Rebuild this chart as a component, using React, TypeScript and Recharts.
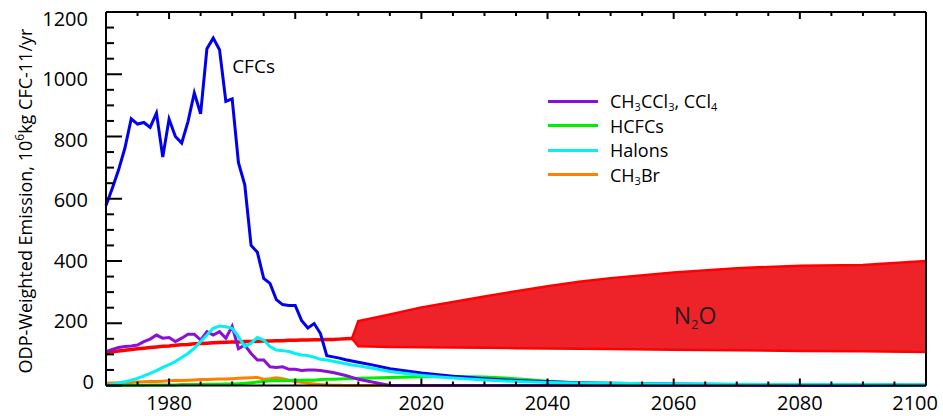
import React from 'react'
import { ComposedChart, Line, Area, XAxis, YAxis, ReferenceDot, Legend, Customized } from 'recharts'

const years = [
  1970, 1971, 1972, 1973, 1974, 1975, 1976, 1977, 1978, 1979,
  1980, 1981, 1982, 1983, 1984, 1985, 1986, 1987, 1988, 1989,
  1990, 1991, 1992, 1993, 1994, 1995, 1996, 1997, 1998, 1999,
  2000, 2001, 2002, 2003, 2004, 2005, 2006, 2007, 2008, 2009, 2010,
  2012, 2015, 2020, 2025, 2030, 2035, 2040, 2045, 2050, 2060, 2070, 2080, 2090, 2100,
]

const cfcs = [
  578, 634, 693, 763, 857, 840, 845, 829, 875, 734,
  856, 800, 779, 848, 940, 873, 1082, 1116, 1079, 913,
  921, 716, 645, 450, 428, 344, 328, 276, 260, 257,
  257, 209, 185, 199, 167, 96, 92, 88, 83, 79, 75,
  67, 54, 40, 30, 22, 16, 12, 9, 7, 5, 3, 2, 2, 1,
]

const ch3ccl3 = [
  109, 116, 122, 125, 127, 130, 141, 149, 162, 152,
  154, 141, 152, 165, 165, 146, 173, 162, 173, 152,
  190, 118, 130, 103, 82, 82, 60, 58, 60, 52,
  52, 48, 50, 50, 48, 45, 42, 37, 32, 26, 20,
  12, 0, 0, 0, 0, 0, 0, 0, 0, 0, 0, 0, 0, 0,
]

const hcfcs = [
  0, 0, 1, 1, 1, 1, 1, 2, 2, 2,
  2, 2, 3, 3, 3, 3, 4, 4, 4, 5,
  5, 6, 7, 9, 11, 13, 15, 16, 15, 16,
  17, 17, 18, 17, 19, 20, 20, 21, 22, 22, 23,
  24, 26, 28, 29, 27, 22, 14, 8, 5, 3, 2, 2, 1, 1,
]

const halons = [
  0, 4, 8, 12, 17, 23, 31, 39, 48, 58,
  67, 77, 90, 103, 120, 141, 162, 184, 191, 189,
  184, 157, 125, 136, 154, 146, 125, 114, 112, 109,
  103, 98, 96, 91, 84, 82, 78, 74, 70, 66, 63,
  56, 45, 32, 24, 18, 13, 10, 8, 7, 5, 4, 3, 3, 2,
]

const ch3br = [
  7, 8, 9, 10, 10, 11, 12, 13, 13, 14,
  15, 16, 16, 17, 18, 19, 19, 20, 21, 21,
  22, 23, 24, 25, 26, 20, 22, 25, 22, 17,
  13, 10, 7, 5, 3, 2, 1, 1, 0, 0, 0,
  0, 0, 0, 0, 0, 0, 0, 0, 0, 0, 0, 0, 0, 0,
]

// N2O observed trend, 1970-2009
const n2oTrend = [
  106, 108, 111, 113, 116, 118, 120, 122, 124, 126,
  127, 129, 131, 132, 134, 135, 136, 137, 138, 139,
  140, 140, 141, 141, 142, 143, 143, 144, 144, 145,
  145, 146, 146, 147, 147, 148, 148, 149, 150, 151,
]

// N2O scenario range
const n2oYears = [2009, 2010, 2012, 2015, 2020, 2025, 2030, 2035, 2040, 2045, 2050, 2060, 2070, 2080, 2090, 2100]
const n2oLow = [151, 126, 125, 124, 123, 122, 121, 120, 119, 118, 117, 115, 113, 111, 110, 108]
const n2oHigh = [151, 207, 215, 228, 251, 268, 286, 303, 319, 333, 345, 363, 377, 385, 387, 400]

const xTicks = [
  1970, 1975, 1980, 1985, 1990, 1995, 2000, 2005, 2010, 2015, 2020, 2025, 2030, 2035,
  2040, 2045, 2050, 2055, 2060, 2065, 2070, 2075, 2080, 2085, 2090, 2095, 2100,
]
const yTicks = [
  0, 50, 100, 150, 200, 250, 300, 350, 400, 450, 500, 550, 600,
  650, 700, 750, 800, 850, 900, 950, 1000, 1050, 1100, 1150, 1200,
]

const legendItems = [
  { name: 'CH_3CCl_3, CCl_4', color: '#8A10D8' },
  { name: 'HCFCs', color: '#00EE00' },
  { name: 'Halons', color: '#00F2F2' },
  { name: 'CH_3Br', color: '#FF8000' },
]

const data = years.map((year, i) => {
  const j = n2oYears.indexOf(year)
  return {
    year,
    cfcs: cfcs[i],
    ch3ccl3: ch3ccl3[i],
    hcfcs: hcfcs[i],
    halons: halons[i],
    ch3br: ch3br[i],
    n2o: i < n2oTrend.length ? n2oTrend[i] : null,
    n2oBand: j >= 0 ? [n2oLow[j], n2oHigh[j]] : null,
  }
})

const FONT = '"Open Sans", "Noto Sans", sans-serif'

const chem = (s: string) =>
  s.split(/_(\d+)/).map((part, i) =>
    i % 2 === 1 ? (
      <span key={i} style={{ fontSize: 11, position: 'relative', top: 3, lineHeight: 1 }}>{part}</span>
    ) : (
      <span key={i}>{part}</span>
    )
  )

const BottomTick = ({ x, y, payload }: any) => {
  const major = payload.value % 20 === 0
  const last = payload.value === 2100
  return (
    <g>
      <line x1={x} x2={x} y1={y} y2={y - (major ? 7 : 4)} stroke="#000" strokeWidth={2} />
      {major && (
        <text
          x={last ? x + 12 : x}
          y={y + 24.5}
          textAnchor={last ? 'end' : 'middle'}
          fontSize={20}
          fontFamily={FONT}
          fill="#000"
        >
          {payload.value}
        </text>
      )}
    </g>
  )
}

const TopTick = ({ x, y, payload }: any) => {
  const major = payload.value % 20 === 0
  return <line x1={x} x2={x} y1={y} y2={y + (major ? 7 : 4)} stroke="#000" strokeWidth={2} />
}

const LeftTick = ({ x, y, payload }: any) => {
  const major = payload.value % 200 === 0
  const zero = payload.value === 0
  return (
    <g>
      <line x1={x} x2={x + (major ? 16 : 8)} y1={y} y2={y} stroke="#000" strokeWidth={2} />
      {major && (
        <text
          x={x - (zero ? 12 : 18)}
          y={y - 4 + payload.value / 120}
          textAnchor="end"
          dominantBaseline="central"
          fontSize={20}
          fontFamily={FONT}
          fill="#000"
        >
          {payload.value}
        </text>
      )}
    </g>
  )
}

const RightTick = ({ x, y, payload }: any) => {
  const major = payload.value % 200 === 0
  return <line x1={x} x2={x - (major ? 9 : 6)} y1={y} y2={y} stroke="#000" strokeWidth={2} />
}

const YTitle = () => (
  <text
    transform="translate(32,201) rotate(-90)"
    textAnchor="middle"
    fontSize={18}
    fontFamily={FONT}
    fill="#000"
  >
    ODP-Weighted Emission, 10<tspan dy={-8} fontSize={12}>6</tspan>
    <tspan dy={8}>kg CFC-11/yr</tspan>
  </text>
)

const renderLegend = () => (
  <div style={{ fontFamily: FONT, fontSize: 18, color: '#000' }}>
    {legendItems.map((item) => (
      <div key={item.name} style={{ display: 'flex', alignItems: 'center', height: 24.5 }}>
        <div style={{ width: 50, height: 3, background: item.color, marginRight: 12 }} />
        <div style={{ lineHeight: '18px', whiteSpace: 'nowrap' }}>{chem(item.name)}</div>
      </div>
    ))}
  </div>
)

export default function App() {
  return (
    <div style={{ position: 'absolute', left: 0, top: 0 }}>
      <ComposedChart width={943} height={416} data={data} margin={{ top: 0, right: 8, bottom: 0, left: 0 }}>
        <XAxis
          xAxisId="b"
          dataKey="year"
          type="number"
          domain={[1970, 2100]}
          ticks={xTicks}
          interval={0}
          height={30.5}
          tickSize={0}
          tickMargin={0}
          tickLine={false}
          tick={<BottomTick />}
          axisLine={{ stroke: '#000', strokeWidth: 2 }}
        />
        <XAxis
          xAxisId="t"
          orientation="top"
          dataKey="year"
          type="number"
          domain={[1970, 2100]}
          ticks={xTicks}
          interval={0}
          height={12}
          tickSize={0}
          tickMargin={0}
          tickLine={false}
          tick={<TopTick />}
          axisLine={{ stroke: '#000', strokeWidth: 2 }}
        />
        <YAxis
          yAxisId="l"
          type="number"
          domain={[0, 1200]}
          ticks={yTicks}
          interval={0}
          width={106}
          tickSize={0}
          tickMargin={0}
          tickLine={false}
          tick={<LeftTick />}
          axisLine={{ stroke: '#000', strokeWidth: 2 }}
        />
        <YAxis
          yAxisId="r"
          orientation="right"
          type="number"
          domain={[0, 1200]}
          ticks={yTicks}
          interval={0}
          width={9}
          tickSize={0}
          tickMargin={0}
          tickLine={false}
          tick={<RightTick />}
          axisLine={{ stroke: '#000', strokeWidth: 2 }}
        />

        <Area
          xAxisId="b"
          yAxisId="l"
          dataKey="n2oBand"
          type="linear"
          fill="#EE2229"
          fillOpacity={1}
          stroke="#FF0000"
          strokeWidth={2.5}
          isAnimationActive={false}
          activeDot={false}
          legendType="none"
        />
        <Line xAxisId="b" yAxisId="l" dataKey="n2o" type="linear" stroke="#FF0000" strokeWidth={3.5} dot={false} activeDot={false} isAnimationActive={false} />
        <Line xAxisId="b" yAxisId="l" dataKey="ch3br" type="linear" stroke="#FF8000" strokeWidth={3} dot={false} activeDot={false} isAnimationActive={false} />
        <Line xAxisId="b" yAxisId="l" dataKey="hcfcs" type="linear" stroke="#00EE00" strokeWidth={3} dot={false} activeDot={false} isAnimationActive={false} />
        <Line xAxisId="b" yAxisId="l" dataKey="ch3ccl3" type="linear" stroke="#8A10D8" strokeWidth={3} dot={false} activeDot={false} isAnimationActive={false} />
        <Line xAxisId="b" yAxisId="l" dataKey="cfcs" type="linear" stroke="#0000EE" strokeWidth={3} dot={false} activeDot={false} isAnimationActive={false} />
        <Line xAxisId="b" yAxisId="l" dataKey="halons" type="linear" stroke="#00F2F2" strokeWidth={3} dot={false} activeDot={false} isAnimationActive={false} />

        <ReferenceDot
          xAxisId="b"
          yAxisId="l"
          x={1990}
          y={1005}
          r={0}
          shape={(p: any) => (
            <text x={p.cx} y={p.cy} fontSize={19} fontFamily={FONT} fill="#000">CFCs</text>
          )}
        />
        <ReferenceDot
          xAxisId="b"
          yAxisId="l"
          x={2060}
          y={197}
          r={0}
          shape={(p: any) => (
            <text x={p.cx} y={p.cy} fontSize={23} fontFamily={FONT} fill="#231F20">
              N<tspan fontSize={13} dy={5}>2</tspan>
              <tspan dy={-5}>O</tspan>
            </text>
          )}
        />

        <Legend
          layout="horizontal"
          verticalAlign="middle"
          align="center"
          content={renderLegend}
          wrapperStyle={{ left: 548, top: 89, width: 260 }}
        />
        <Customized component={<YTitle />} />
      </ComposedChart>
    </div>
  )
}
